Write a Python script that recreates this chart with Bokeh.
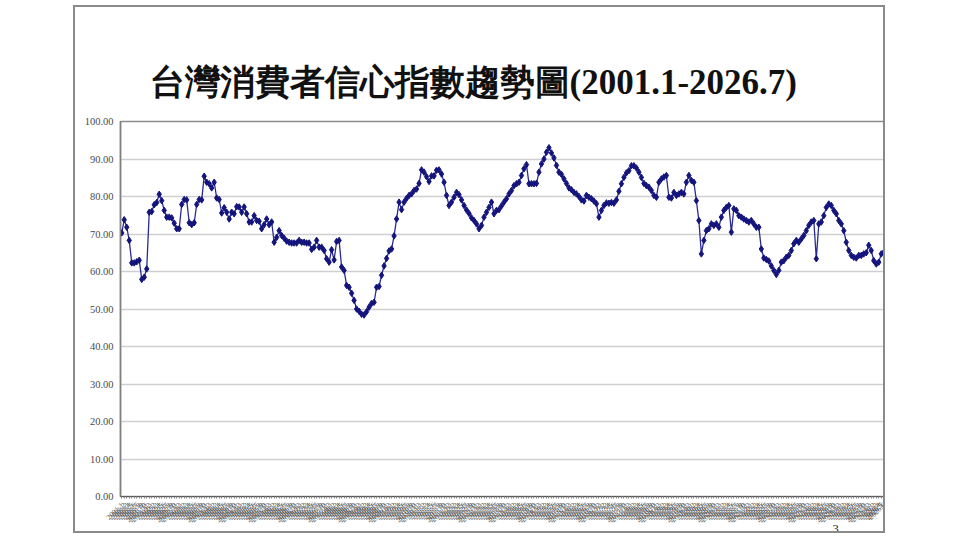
import math
from bokeh.plotting import figure
from bokeh.models import FactorRange, Range1d, NumeralTickFormatter, FixedTicker, Title
from bokeh.embed import file_html
from bokeh.resources import INLINE

title_text = "台灣消費者信心指數趨勢圖(2001.1-2026.7)"
page_number = "3"

# month labels 2001.1 ... 2026.7
months = [f"{y}.{m}" for y in range(2001, 2027) for m in range(1, 13)][:307]

# index values, by period
cci_2001_2008 = [70.3, 73.8, 71.8, 68.3, 62.3, 62.3, 62.6, 63.0, 57.9, 58.5,
                 60.7, 75.8, 76.0, 77.8, 78.4, 80.6, 78.9, 76.3, 74.5, 74.5,
                 74.3, 72.9, 71.4, 71.4, 77.9, 79.2, 79.1, 73.0, 72.5, 73.0,
                 77.9, 79.2, 79.1, 85.4, 83.8, 83.4, 82.3, 83.8, 79.6, 79.2,
                 75.6, 77.0, 75.8, 74.0, 75.8, 75.4, 77.3, 77.2, 75.8, 77.2,
                 75.4, 73.2, 73.2, 74.9, 73.6, 73.4, 71.4, 72.5, 74.0, 72.5,
                 73.2, 67.8, 69.1, 70.9, 69.6, 68.9, 68.1, 67.8, 67.6, 67.6,
                 67.6, 68.3, 67.8, 67.8, 67.6, 67.6, 65.9, 66.5, 68.3, 66.5,
                 66.5, 65.6, 63.4, 62.5, 65.8, 63.1, 68.0, 68.3, 61.2, 60.3,
                 56.3, 55.8, 54.2, 52.3, 50.0, 49.4]
cci_2009_2014 = [48.6, 48.4, 49.3, 50.5, 51.5, 51.8, 55.8, 56.0, 59.0, 61.5,
                 63.5, 65.5, 66.0, 69.5, 74.0, 78.5, 76.5, 78.5, 79.5, 80.3,
                 80.7, 81.6, 82.0, 83.5, 87.1, 86.5, 85.3, 84.0, 85.5, 85.5,
                 87.0, 87.1, 86.0, 83.8, 80.3, 77.6, 78.5, 79.8, 81.1, 80.5,
                 79.1, 77.6, 76.4, 75.5, 74.3, 73.6, 72.7, 71.4, 72.3, 74.5,
                 75.8, 77.1, 78.5, 75.4, 76.3, 76.5, 77.5, 78.5, 79.4, 80.7,
                 81.6, 82.9]
cci_2014_2018 = [83.4, 83.8, 85.6, 87.4, 88.5, 83.4, 83.4, 83.4, 83.5, 86.5,
                 88.7, 90.0, 91.8, 93.0, 91.6, 90.3, 88.3, 86.5, 85.9, 84.7,
                 83.5, 82.3, 81.8, 81.1, 80.7, 80.0, 79.1, 78.8, 80.3, 79.8,
                 79.4, 78.8, 78.1, 74.5, 76.3, 77.6, 78.3, 78.2, 78.4, 78.2,
                 79.1, 81.4, 83.4, 85.1, 86.3, 86.9, 88.2, 88.2, 87.6, 86.5,
                 85.1, 83.5]
cci_2018_2022 = [82.9, 82.5, 81.6, 80.3, 79.8, 83.8, 84.7, 85.2, 85.6, 79.8,
                 79.6, 81.1, 80.3, 80.7, 81.1, 80.7, 83.8, 85.6, 84.3, 83.8,
                 78.9, 73.6, 64.7, 68.3, 70.9, 71.4, 72.7, 72.3, 72.7, 71.8,
                 74.5, 76.3, 77.1, 77.6, 70.5, 76.7, 76.3, 74.9, 74.5, 74.0,
                 73.6, 73.2, 73.6, 72.7, 71.8, 71.8]
cci_2022_2026 = [66.0, 63.6, 63.2, 62.8, 61.5, 60.3, 59.2, 60.3, 62.5, 62.9,
                 63.8, 64.3, 65.6, 67.4, 68.3, 67.8, 68.7, 69.6, 70.9, 72.3,
                 73.2, 73.6, 63.4, 72.7, 73.2, 74.9, 77.1, 78.0, 77.6, 76.3,
                 75.4, 73.6, 72.7, 70.9, 67.8, 65.6, 64.3, 63.8, 63.6, 64.3,
                 64.3, 64.7, 65.0, 67.0, 65.6, 62.9, 62.0, 62.5, 64.7, 65.1,
                 64.8]

cci = cci_2001_2008 + cci_2009_2014 + cci_2014_2018 + cci_2018_2022 + cci_2022_2026
y_ticks = [0, 10, 20, 30, 40, 50, 60, 70, 80, 90, 100]

p = figure(x_range=FactorRange(*months), y_range=Range1d(0, 100),
           width=812, height=528, output_backend="svg", toolbar_location=None,
           min_border_left=45, min_border_right=0, min_border_top=114,
           min_border_bottom=39, background_fill_color="white",
           border_fill_color="white")
p.margin = (5, 0, 0, 73)
p.styles = {"border": "2px solid #8a8a8a"}

p.title.text = title_text
p.title.text_font = "Liberation Serif"
p.title.text_font_size = "35px"
p.title.text_font_style = "bold"
p.title.text_color = "#111111"
p.title.align = "left"
p.title.offset = 29
p.title.standoff = 40

p.outline_line_color = "#8c8c8c"
p.outline_line_width = 1.5

p.yaxis.ticker = FixedTicker(ticks=y_ticks)
p.yaxis.formatter = NumeralTickFormatter(format="0.00")
p.yaxis.major_label_text_font = "Liberation Serif"
p.yaxis.major_label_text_font_size = "10.5px"
p.yaxis.major_label_text_color = "#4a4a4a"
p.yaxis.axis_line_color = "#7f7f7f"
p.yaxis.axis_line_width = 1.5
p.yaxis.major_tick_out = 0
p.yaxis.major_tick_in = 0
p.yaxis.minor_tick_out = 0
p.yaxis.minor_tick_in = 0
p.yaxis.major_label_standoff = 7
p.ygrid.grid_line_color = "#cfcfcf"
p.ygrid.grid_line_width = 1.5

p.xaxis.major_label_orientation = math.pi / 4
p.xaxis.major_label_text_font = "Liberation Serif"
p.xaxis.major_label_text_font_size = "7.5px"
p.xaxis.major_label_text_color = "#5a5a5a"
p.xaxis.major_label_standoff = 5
p.xaxis.axis_line_color = "#555555"
p.xaxis.major_tick_out = 2
p.xaxis.major_tick_in = 0
p.xaxis.major_tick_line_color = "#888888"
p.xgrid.visible = False

p.line(months, cci, line_color="#2a2a96", line_width=1.3)
p.scatter(months, cci, marker="diamond", size=6.5, fill_color="#14147d",
          line_color="#14147d")

p.add_layout(Title(text=page_number, align="left", offset=712, standoff=-9,
                   text_font="Liberation Serif", text_font_size="12.5px",
                   text_font_style="normal", text_color="#222222"), "below")

open("out.html", "w").write(file_html(p, INLINE))
